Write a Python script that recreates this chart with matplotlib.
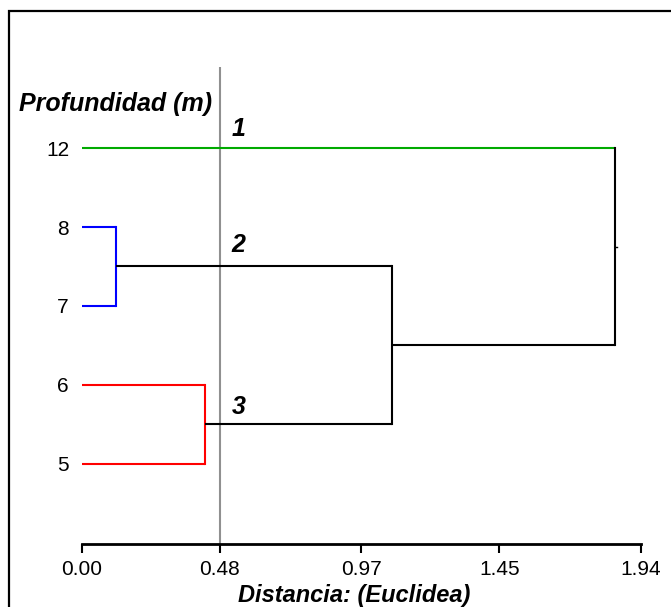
import matplotlib
matplotlib.use("Agg")
import matplotlib.pyplot as plt
from matplotlib.patches import Rectangle

# ---- data ----
leaf_labels = ["12", "8", "7", "6", "5"]
leaf_pos = [5, 4, 3, 2, 1]
leaf_colors = ["#00aa00", "#0000ff", "#0000ff", "#ff0000", "#ff0000"]
# merges: (left node, right node, distance, color)
merges = [
    ("8", "7", 0.12, "#0000ff"),
    ("6", "5", 0.43, "#ff0000"),
    ("m0", "m1", 1.078, "black"),
    ("12", "m2", 1.852, "black"),
]
cut_value = 0.48
group_labels = ["1", "2", "3"]
group_label_y = [5.24, 3.77, 1.72]
xticks = [0.00, 0.48, 0.97, 1.45, 1.94]
xtick_labels = ["0.00", "0.48", "0.97", "1.45", "1.94"]

plt.rcParams['font.family'] = ['Liberation Sans', 'DejaVu Sans']

fig = plt.figure(figsize=(6.71, 6.07), dpi=100)
ax = fig.add_axes([81.5 / 671, 63 / 607, 559 / 671, 477 / 607])

node_y = dict(zip(leaf_labels, leaf_pos))
node_x = {l: 0.0 for l in leaf_labels}
lw = 1.5
for i, (a, b, d, c) in enumerate(merges):
    ya, yb = node_y[a], node_y[b]
    ca = leaf_colors[leaf_labels.index(a)] if a in leaf_labels else c
    cb = leaf_colors[leaf_labels.index(b)] if b in leaf_labels else c
    ax.plot([node_x[a], d], [ya, ya], color=ca, lw=lw, solid_capstyle='butt')
    ax.plot([node_x[b], d], [yb, yb], color=cb, lw=lw, solid_capstyle='butt')
    ax.plot([d, d], [ya, yb], color=c, lw=lw, solid_capstyle='projecting')
    node_y[f"m{i}"] = (ya + yb) / 2
    node_x[f"m{i}"] = d

# root stub
root = f"m{len(merges)-1}"
ax.plot([node_x[root], node_x[root] + 0.008], [node_y[root]] * 2, color="black", lw=1)

# cut line
ax.axvline(cut_value, color="#909090", lw=1.5, zorder=0)

for lab, y in zip(group_labels, group_label_y):
    ax.text(0.52, y, lab, fontsize=18, fontweight='bold', fontstyle='italic',
            ha='left', va='center')

ax.set_xlim(0, 1.94)
ax.set_ylim(-0.02, 6.03)
ax.set_xticks(xticks)
ax.set_xticklabels(xtick_labels, fontsize=15)
ax.set_yticks(leaf_pos)
ax.set_yticklabels(leaf_labels, fontsize=15)
ax.tick_params(axis='y', length=0, pad=9)
ax.tick_params(axis='x', length=6.5, width=1.5, pad=5, direction='out')
for s in ["left", "right", "top"]:
    ax.spines[s].set_visible(False)
ax.spines["bottom"].set_linewidth(2)

fig.text(354 / 671, 1 - 602 / 607, "Distancia: (Euclidea)", fontsize=17,
         fontweight='bold', fontstyle='italic', ha='center', va='baseline')
fig.text(19 / 671, 1 - 104 / 607, "Profundidad (m)", fontsize=18,
         fontweight='bold', fontstyle='italic', ha='left', va='center')

fig.patches.append(Rectangle((9 / 671, -0.1), 1.2, 1 - 11 / 607 + 0.1,
                             transform=fig.transFigure, fill=False,
                             edgecolor='black', lw=1.6, clip_on=False))

fig.savefig("out.png", dpi=100)
